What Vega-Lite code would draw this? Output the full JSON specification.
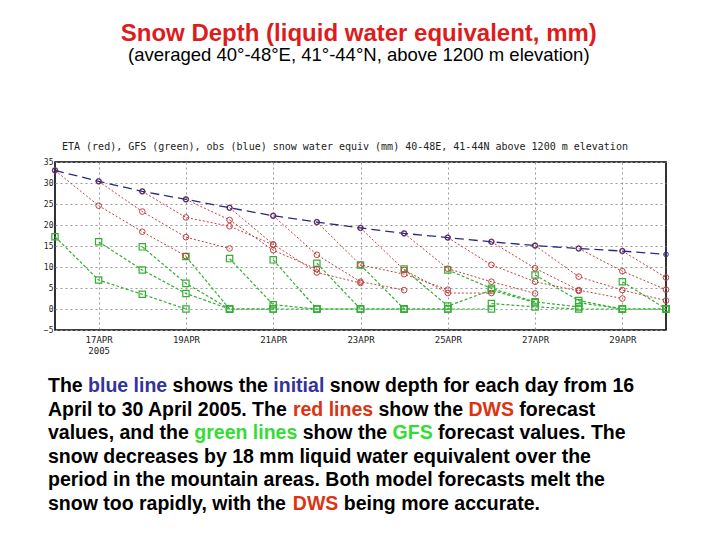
{
  "$schema": "https://vega.github.io/schema/vega-lite/v6.json",
  "background": "white",
  "padding": {"left": 42, "top": 21, "right": 10, "bottom": 0},
  "title": {
    "text": "Snow Depth (liquid water equivalent, mm)",
    "subtitle": "(averaged 40°-48°E, 41°-44°N, above 1200 m elevation)",
    "anchor": "middle",
    "font": "Liberation Sans",
    "fontSize": 24,
    "fontWeight": "bold",
    "color": "#dd1c1c",
    "subtitleFont": "Liberation Sans",
    "subtitleFontSize": 18.5,
    "subtitleColor": "#000000",
    "subtitlePadding": 0,
    "offset": 77
  },
  "config": {"view": {"stroke": null}, "concat": {"spacing": 20}},
  "datasets": {
    "swe": [
      {"model": "obs", "run": "obs", "day": 16, "swe": 33.0},
      {"model": "obs", "run": "obs", "day": 17, "swe": 30.4},
      {"model": "obs", "run": "obs", "day": 18, "swe": 28.0},
      {"model": "obs", "run": "obs", "day": 19, "swe": 26.1},
      {"model": "obs", "run": "obs", "day": 20, "swe": 24.1},
      {"model": "obs", "run": "obs", "day": 21, "swe": 22.2},
      {"model": "obs", "run": "obs", "day": 22, "swe": 20.7},
      {"model": "obs", "run": "obs", "day": 23, "swe": 19.3},
      {"model": "obs", "run": "obs", "day": 24, "swe": 18.0},
      {"model": "obs", "run": "obs", "day": 25, "swe": 17.0},
      {"model": "obs", "run": "obs", "day": 26, "swe": 16.0},
      {"model": "obs", "run": "obs", "day": 27, "swe": 15.1},
      {"model": "obs", "run": "obs", "day": 28, "swe": 14.4},
      {"model": "obs", "run": "obs", "day": 29, "swe": 13.8},
      {"model": "obs", "run": "obs", "day": 30, "swe": 13.0},

      {"model": "ETA", "run": "E16", "day": 16, "swe": 33.0},
      {"model": "ETA", "run": "E16", "day": 17, "swe": 24.6},
      {"model": "ETA", "run": "E16", "day": 18, "swe": 18.4},
      {"model": "ETA", "run": "E16", "day": 19, "swe": 12.6},
      {"model": "ETA", "run": "E17", "day": 17, "swe": 30.4},
      {"model": "ETA", "run": "E17", "day": 18, "swe": 23.2},
      {"model": "ETA", "run": "E17", "day": 19, "swe": 17.1},
      {"model": "ETA", "run": "E17", "day": 20, "swe": 14.4},
      {"model": "ETA", "run": "E18", "day": 18, "swe": 28.0},
      {"model": "ETA", "run": "E18", "day": 19, "swe": 21.8},
      {"model": "ETA", "run": "E18", "day": 20, "swe": 19.7},
      {"model": "ETA", "run": "E18", "day": 21, "swe": 15.3},
      {"model": "ETA", "run": "E19", "day": 19, "swe": 26.1},
      {"model": "ETA", "run": "E19", "day": 20, "swe": 21.2},
      {"model": "ETA", "run": "E19", "day": 21, "swe": 14.0},
      {"model": "ETA", "run": "E19", "day": 22, "swe": 9.5},
      {"model": "ETA", "run": "E20", "day": 20, "swe": 24.1},
      {"model": "ETA", "run": "E20", "day": 21, "swe": 15.4},
      {"model": "ETA", "run": "E20", "day": 22, "swe": 8.7},
      {"model": "ETA", "run": "E20", "day": 23, "swe": 6.2},
      {"model": "ETA", "run": "E21", "day": 21, "swe": 22.2},
      {"model": "ETA", "run": "E21", "day": 22, "swe": 12.9},
      {"model": "ETA", "run": "E21", "day": 23, "swe": 6.5},
      {"model": "ETA", "run": "E21", "day": 24, "swe": 4.5},
      {"model": "ETA", "run": "E22", "day": 22, "swe": 20.7},
      {"model": "ETA", "run": "E22", "day": 23, "swe": 10.5},
      {"model": "ETA", "run": "E22", "day": 24, "swe": 8.3},
      {"model": "ETA", "run": "E22", "day": 25, "swe": 4.6},
      {"model": "ETA", "run": "E23", "day": 23, "swe": 19.3},
      {"model": "ETA", "run": "E23", "day": 24, "swe": 9.3},
      {"model": "ETA", "run": "E23", "day": 25, "swe": 3.8},
      {"model": "ETA", "run": "E23", "day": 26, "swe": 3.8},
      {"model": "ETA", "run": "E24", "day": 24, "swe": 18.0},
      {"model": "ETA", "run": "E24", "day": 25, "swe": 9.6},
      {"model": "ETA", "run": "E24", "day": 26, "swe": 6.5},
      {"model": "ETA", "run": "E24", "day": 27, "swe": 3.7},
      {"model": "ETA", "run": "E25", "day": 25, "swe": 17.0},
      {"model": "ETA", "run": "E25", "day": 26, "swe": 10.5},
      {"model": "ETA", "run": "E25", "day": 27, "swe": 6.5},
      {"model": "ETA", "run": "E25", "day": 28, "swe": 4.3},
      {"model": "ETA", "run": "E26", "day": 26, "swe": 16.0},
      {"model": "ETA", "run": "E26", "day": 27, "swe": 9.7},
      {"model": "ETA", "run": "E26", "day": 28, "swe": 4.5},
      {"model": "ETA", "run": "E26", "day": 29, "swe": 2.5},
      {"model": "ETA", "run": "E27", "day": 27, "swe": 15.1},
      {"model": "ETA", "run": "E27", "day": 28, "swe": 7.7},
      {"model": "ETA", "run": "E27", "day": 29, "swe": 4.5},
      {"model": "ETA", "run": "E27", "day": 30, "swe": 2.0},
      {"model": "ETA", "run": "E28", "day": 28, "swe": 14.4},
      {"model": "ETA", "run": "E28", "day": 29, "swe": 9.0},
      {"model": "ETA", "run": "E28", "day": 30, "swe": 4.6},
      {"model": "ETA", "run": "E29", "day": 29, "swe": 13.8},
      {"model": "ETA", "run": "E29", "day": 30, "swe": 7.5},

      {"model": "GFS", "run": "G16", "day": 16, "swe": 17.2},
      {"model": "GFS", "run": "G16", "day": 17, "swe": 6.9},
      {"model": "GFS", "run": "G16", "day": 18, "swe": 3.5},
      {"model": "GFS", "run": "G16", "day": 19, "swe": 0.0},
      {"model": "GFS", "run": "G17", "day": 17, "swe": 16.0},
      {"model": "GFS", "run": "G17", "day": 18, "swe": 9.3},
      {"model": "GFS", "run": "G17", "day": 19, "swe": 3.7},
      {"model": "GFS", "run": "G17", "day": 20, "swe": 0.0},
      {"model": "GFS", "run": "G18", "day": 18, "swe": 14.8},
      {"model": "GFS", "run": "G18", "day": 19, "swe": 6.1},
      {"model": "GFS", "run": "G18", "day": 20, "swe": 0.0},
      {"model": "GFS", "run": "G18", "day": 21, "swe": 0.0},
      {"model": "GFS", "run": "G19", "day": 19, "swe": 12.5},
      {"model": "GFS", "run": "G19", "day": 20, "swe": 0.0},
      {"model": "GFS", "run": "G19", "day": 21, "swe": 0.0},
      {"model": "GFS", "run": "G19", "day": 22, "swe": 0.0},
      {"model": "GFS", "run": "G20", "day": 20, "swe": 12.0},
      {"model": "GFS", "run": "G20", "day": 21, "swe": 1.0},
      {"model": "GFS", "run": "G20", "day": 22, "swe": 0.0},
      {"model": "GFS", "run": "G20", "day": 23, "swe": 0.0},
      {"model": "GFS", "run": "G21", "day": 21, "swe": 11.7},
      {"model": "GFS", "run": "G21", "day": 22, "swe": 0.0},
      {"model": "GFS", "run": "G21", "day": 23, "swe": 0.0},
      {"model": "GFS", "run": "G21", "day": 24, "swe": 0.0},
      {"model": "GFS", "run": "G22", "day": 22, "swe": 10.9},
      {"model": "GFS", "run": "G22", "day": 23, "swe": 0.0},
      {"model": "GFS", "run": "G22", "day": 24, "swe": 0.0},
      {"model": "GFS", "run": "G22", "day": 25, "swe": 0.0},
      {"model": "GFS", "run": "G23", "day": 23, "swe": 10.5},
      {"model": "GFS", "run": "G23", "day": 24, "swe": 0.0},
      {"model": "GFS", "run": "G23", "day": 25, "swe": 0.0},
      {"model": "GFS", "run": "G23", "day": 26, "swe": 0.0},
      {"model": "GFS", "run": "G24", "day": 24, "swe": 9.5},
      {"model": "GFS", "run": "G24", "day": 25, "swe": 0.7},
      {"model": "GFS", "run": "G24", "day": 26, "swe": 4.5},
      {"model": "GFS", "run": "G24", "day": 27, "swe": 1.5},
      {"model": "GFS", "run": "G25", "day": 25, "swe": 9.3},
      {"model": "GFS", "run": "G25", "day": 26, "swe": 4.9},
      {"model": "GFS", "run": "G25", "day": 27, "swe": 1.7},
      {"model": "GFS", "run": "G25", "day": 28, "swe": 0.5},
      {"model": "GFS", "run": "G26", "day": 26, "swe": 1.3},
      {"model": "GFS", "run": "G26", "day": 27, "swe": 0.5},
      {"model": "GFS", "run": "G26", "day": 28, "swe": 0.0},
      {"model": "GFS", "run": "G26", "day": 29, "swe": 0.0},
      {"model": "GFS", "run": "G27", "day": 27, "swe": 8.1},
      {"model": "GFS", "run": "G27", "day": 28, "swe": 2.0},
      {"model": "GFS", "run": "G27", "day": 29, "swe": 0.0},
      {"model": "GFS", "run": "G27", "day": 30, "swe": 0.0},
      {"model": "GFS", "run": "G28", "day": 28, "swe": 1.5},
      {"model": "GFS", "run": "G28", "day": 29, "swe": 0.0},
      {"model": "GFS", "run": "G28", "day": 30, "swe": 0.0},
      {"model": "GFS", "run": "G29", "day": 29, "swe": 6.5},
      {"model": "GFS", "run": "G29", "day": 30, "swe": 0.0}
    ],
    "notes": [
      {"line": 1, "tone": "plain", "at": 0, "text": "The"},
      {"line": 1, "tone": "obs", "at": 2.056, "text": "blue line"},
      {"line": 1, "tone": "plain", "at": 6.391, "text": "shows the"},
      {"line": 1, "tone": "obs", "at": 11.559, "text": "initial"},
      {"line": 1, "tone": "plain", "at": 14.449, "text": "snow depth for each day from 16"},
      {"line": 2, "tone": "plain", "at": 0, "text": "April to 30 April 2005. The"},
      {"line": 2, "tone": "eta", "at": 12.56, "text": "red lines"},
      {"line": 2, "tone": "plain", "at": 16.951, "text": "show the"},
      {"line": 2, "tone": "eta", "at": 21.563, "text": "DWS"},
      {"line": 2, "tone": "plain", "at": 24.174, "text": "forecast"},
      {"line": 3, "tone": "plain", "at": 0, "text": "values, and the"},
      {"line": 3, "tone": "gfs", "at": 7.503, "text": "green lines"},
      {"line": 3, "tone": "plain", "at": 13.061, "text": "show the"},
      {"line": 3, "tone": "gfs", "at": 17.673, "text": "GFS"},
      {"line": 3, "tone": "plain", "at": 20.007, "text": "forecast values. The"},
      {"line": 4, "tone": "plain", "at": 0, "text": "snow decreases by 18 mm liquid water equivalent over the"},
      {"line": 5, "tone": "plain", "at": 0, "text": "period in the mountain areas. Both model forecasts melt the"},
      {"line": 6, "tone": "plain", "at": 0, "text": "snow too rapidly, with the"},
      {"line": 6, "tone": "eta", "at": 12.558, "text": "DWS"},
      {"line": 6, "tone": "plain", "at": 15.169, "text": "being more accurate."}
    ]
  },
  "vconcat": [
    {
      "width": 611,
      "height": 168,
      "title": {
        "text": "ETA (red), GFS (green), obs (blue) snow water equiv (mm) 40-48E, 41-44N above 1200 m elevation",
        "font": "DejaVu Sans Mono",
        "fontSize": 10,
        "fontWeight": "normal",
        "color": "#222222",
        "anchor": "start",
        "frame": "group",
        "dx": 7,
        "offset": 6
      },
      "view": {"stroke": "#000000", "strokeWidth": 1.6},
      "data": {"name": "swe"},
      "encoding": {
        "x": {
          "field": "day",
          "type": "quantitative",
          "scale": {"domain": [16, 30], "nice": false},
          "axis": {
            "title": null,
            "values": [17, 19, 21, 23, 25, 27, 29],
            "labelExpr": "datum.value == 17 ? ['17APR', '2005'] : datum.value + 'APR'",
            "labelFont": "DejaVu Sans Mono",
            "labelFontSize": 9,
            "labelColor": "#222222",
            "labelPadding": 5,
            "ticks": false,
            "domain": false,
            "grid": true,
            "gridColor": "#999999",
            "gridDash": [2, 3]
          }
        },
        "y": {
          "field": "swe",
          "type": "quantitative",
          "scale": {"domain": [-5, 35], "nice": false},
          "axis": {
            "title": null,
            "values": [-5, 0, 5, 10, 15, 20, 25, 30, 35],
            "labelFont": "DejaVu Sans Mono",
            "labelFontSize": 8,
            "labelColor": "#222222",
            "labelPadding": 2,
            "ticks": false,
            "domain": false,
            "grid": true,
            "gridColor": "#999999",
            "gridDash": [2, 3]
          }
        },
        "detail": {"field": "run"}
      },
      "layer": [
        {
          "transform": [{"filter": "datum.model == 'GFS'"}],
          "mark": {
            "type": "line",
            "color": "#33b033",
            "strokeWidth": 1.2,
            "strokeDash": [3, 2],
            "point": {"shape": "square", "filled": false, "size": 40, "color": "#33b033", "strokeWidth": 1.2}
          }
        },
        {
          "transform": [{"filter": "datum.model == 'ETA'"}],
          "mark": {
            "type": "line",
            "color": "#c04040",
            "strokeWidth": 1,
            "strokeDash": [2, 2],
            "point": {"shape": "circle", "filled": false, "size": 32, "color": "#c04040", "strokeWidth": 1}
          }
        },
        {
          "transform": [{"filter": "datum.model == 'obs'"}],
          "mark": {
            "type": "line",
            "color": "#2a2a80",
            "strokeWidth": 1.3,
            "strokeDash": [9, 5],
            "point": {"shape": "circle", "filled": false, "size": 22, "color": "#2a2a80", "strokeWidth": 1}
          }
        }
      ]
    },
    {
      "width": 620,
      "height": 118,
      "data": {"name": "notes"},
      "mark": {
        "type": "text",
        "align": "left",
        "baseline": "alphabetic",
        "font": "Liberation Sans",
        "fontSize": 19.5,
        "fontWeight": "bold"
      },
      "encoding": {
        "x": {"field": "at", "type": "quantitative", "scale": {"domain": [0.36, 32.156], "nice": false, "zero": false}, "axis": null},
        "y": {"field": "line", "type": "quantitative", "scale": {"domain": [1, 6], "reverse": true}, "axis": null},
        "text": {"field": "text"},
        "color": {
          "field": "tone",
          "type": "nominal",
          "scale": {"domain": ["plain", "obs", "eta", "gfs"], "range": ["#000000", "#333399", "#dd3311", "#33dd33"]},
          "legend": null
        }
      }
    }
  ]
}
